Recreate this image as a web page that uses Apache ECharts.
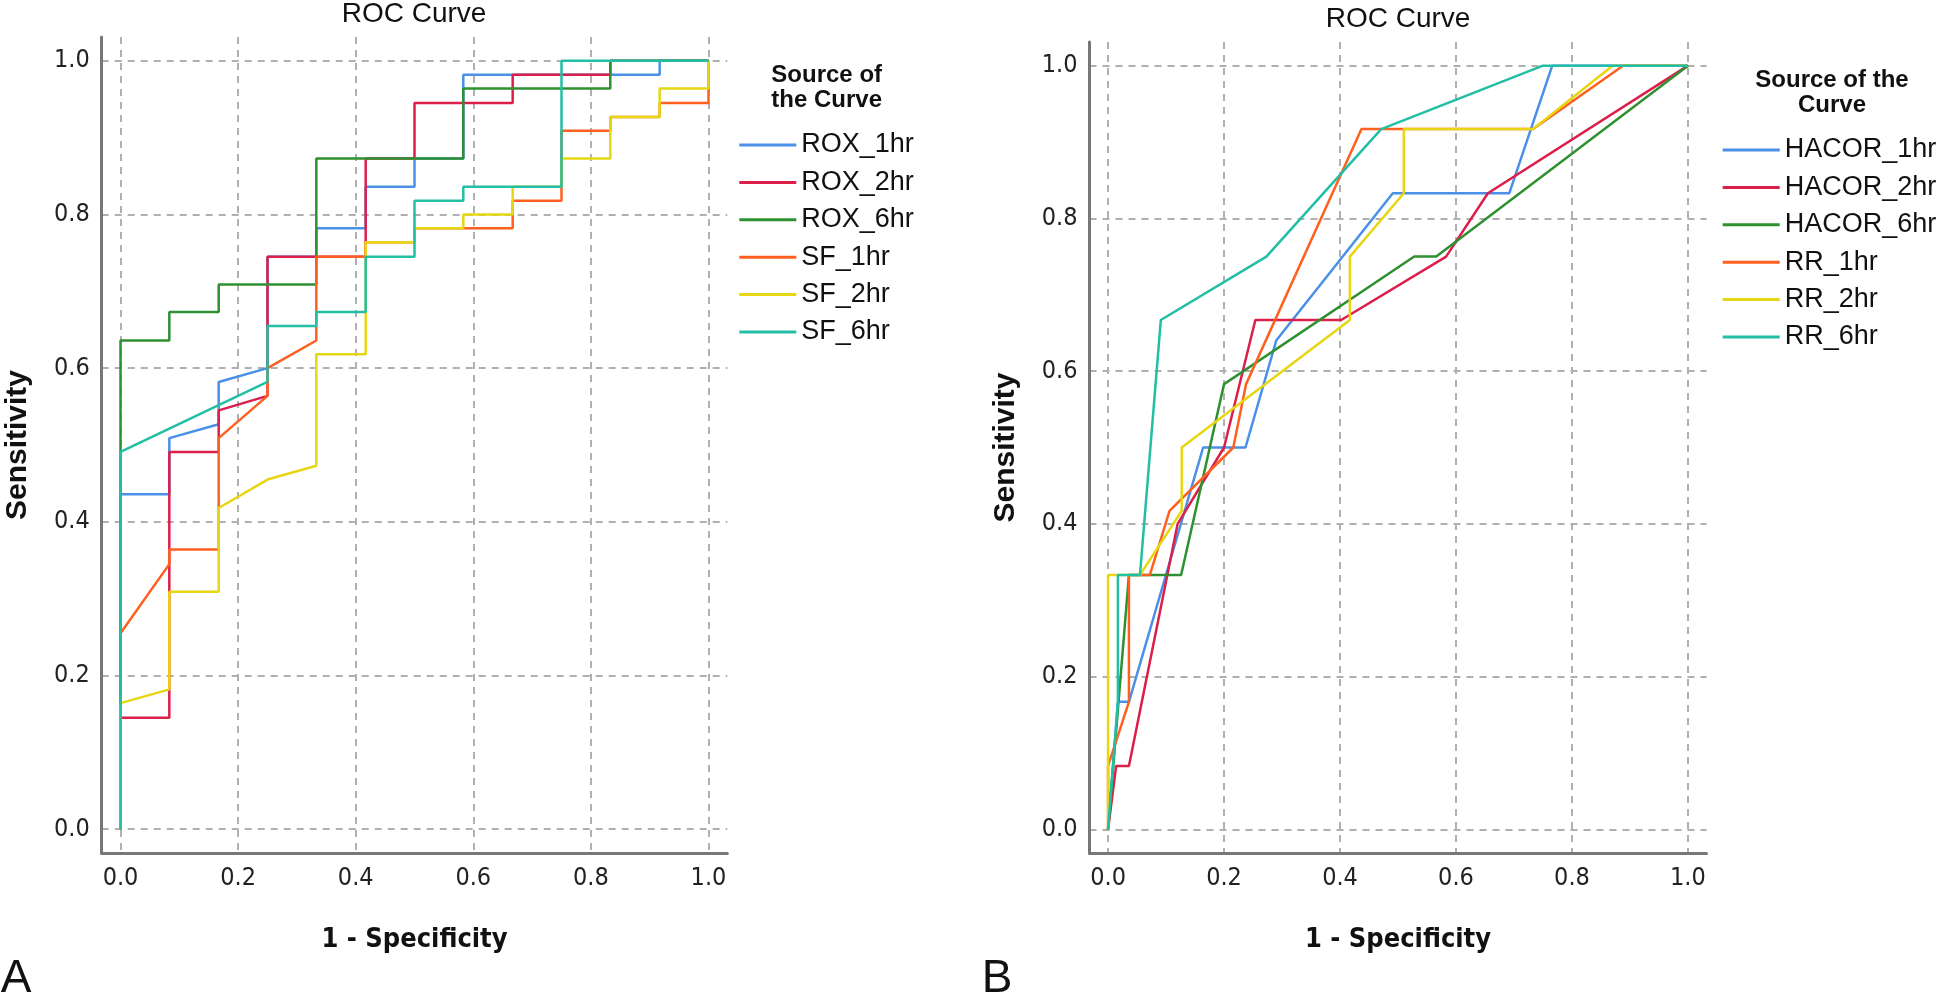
<!DOCTYPE html>
<html>
<head>
<meta charset="utf-8">
<title>ROC Curve</title>
<script src="https://cdn.jsdelivr.net/npm/echarts@6/dist/echarts.min.js"></script>
<style>
  html, body { margin: 0; padding: 0; background: #ffffff; }
  #chart { width: 1944px; height: 999px; }
</style>
</head>
<body>
<div id="chart"></div>
<script>
// panel A : ROX index and SpO2/FiO2, points are [1 - specificity, sensitivity]
const rox1hr = [[0,0],[0,0.436],[0.083,0.436],[0.083,0.509],[0.167,0.527],[0.167,0.582],[0.25,0.6],[0.25,0.745],[0.333,0.745],[0.333,0.782],[0.417,0.782],[0.417,0.836],[0.5,0.836],[0.5,0.873],[0.583,0.873],[0.583,0.982],[0.917,0.982],[0.917,1],[1,1]]
const rox2hr = [[0,0],[0,0.145],[0.083,0.145],[0.083,0.491],[0.167,0.491],[0.167,0.545],[0.25,0.564],[0.25,0.745],[0.417,0.745],[0.417,0.873],[0.5,0.873],[0.5,0.945],[0.667,0.945],[0.667,0.982],[0.833,0.982],[0.833,1],[1,1]]
const rox6hr = [[0,0],[0,0.636],[0.083,0.636],[0.083,0.673],[0.167,0.673],[0.167,0.709],[0.333,0.709],[0.333,0.873],[0.583,0.873],[0.583,0.964],[0.833,0.964],[0.833,1],[1,1]]
const sf1hr = [[0,0],[0,0.255],[0.083,0.345],[0.083,0.364],[0.167,0.364],[0.167,0.509],[0.25,0.564],[0.25,0.6],[0.333,0.636],[0.333,0.745],[0.417,0.745],[0.417,0.764],[0.5,0.764],[0.5,0.782],[0.667,0.782],[0.667,0.818],[0.75,0.818],[0.75,0.909],[0.833,0.909],[0.833,0.927],[0.917,0.927],[0.917,0.945],[1,0.945],[1,1]]
const sf2hr = [[0,0],[0,0.164],[0.083,0.182],[0.083,0.309],[0.167,0.309],[0.167,0.418],[0.25,0.455],[0.333,0.473],[0.333,0.618],[0.417,0.618],[0.417,0.764],[0.5,0.764],[0.5,0.782],[0.583,0.782],[0.583,0.8],[0.667,0.8],[0.667,0.836],[0.75,0.836],[0.75,0.873],[0.833,0.873],[0.833,0.927],[0.917,0.927],[0.917,0.964],[1,0.964],[1,1]]
const sf6hr = [[0,0],[0,0.491],[0.25,0.582],[0.25,0.655],[0.333,0.655],[0.333,0.673],[0.417,0.673],[0.417,0.745],[0.5,0.745],[0.5,0.818],[0.583,0.818],[0.583,0.836],[0.75,0.836],[0.75,1],[1,1]]

// panel B : HACOR and respiratory rate
const hacor1hr = [[0,0],[0.017,0.167],[0.036,0.167],[0.164,0.5],[0.237,0.5],[0.29,0.64],[0.491,0.833],[0.692,0.833],[0.766,1],[1,1]]
const hacor2hr = [[0,0],[0.014,0.083],[0.036,0.083],[0.12,0.4],[0.2,0.5],[0.254,0.667],[0.402,0.667],[0.583,0.75],[0.655,0.833],[1,1]]
const hacor6hr = [[0,0],[0.036,0.333],[0.126,0.333],[0.2,0.583],[0.528,0.75],[0.566,0.75],[1,1]]
const rr1hr = [[0,0],[0,0.083],[0.036,0.167],[0.036,0.333],[0.072,0.333],[0.106,0.417],[0.216,0.5],[0.238,0.583],[0.437,0.917],[0.733,0.917],[0.888,1],[1,1]]
const rr2hr = [[0,0],[0,0.333],[0.055,0.333],[0.127,0.417],[0.127,0.5],[0.417,0.667],[0.417,0.75],[0.51,0.833],[0.51,0.917],[0.733,0.917],[0.87,1],[1,1]]
const rr6hr = [[0,0],[0.017,0.167],[0.017,0.333],[0.055,0.333],[0.091,0.667],[0.273,0.75],[0.471,0.917],[0.75,1],[1,1]]

const namesA = ['ROX_1hr', 'ROX_2hr', 'ROX_6hr', 'SF_1hr', 'SF_2hr', 'SF_6hr']
const namesB = ['HACOR_1hr', 'HACOR_2hr', 'HACOR_6hr', 'RR_1hr', 'RR_2hr', 'RR_6hr']
const dataA = [rox1hr, rox2hr, rox6hr, sf1hr, sf2hr, sf6hr]
const dataB = [hacor1hr, hacor2hr, hacor6hr, rr1hr, rr2hr, rr6hr]
const colors = ['#4a8fe8', '#dc1e4a', '#2f9032', '#ff6020', '#e6d614', '#22bfa5']

const narrow = "'Liberation Sans Narrow', 'DejaVu Sans Condensed', 'Arial Narrow', sans-serif"
const arial = "'Liberation Sans', Arial, sans-serif"

const chart = echarts.init(document.getElementById('chart'))

function makeX(idx) {
  return {
    type: 'value', gridIndex: idx,
    min: -0.032, max: 1.032, splitNumber: 5,
    name: '1 - Specificity', nameLocation: 'middle', nameGap: 73,
    nameTextStyle: {fontFamily: narrow, fontWeight: 'bold', fontSize: 27, color: '#111'},
    axisLine: {onZero: false, lineStyle: {color: '#777', width: 3}},
    axisTick: {show: false},
    axisLabel: {showMinLabel: false, showMaxLabel: false, margin: 13, fontSize: 25, fontFamily: narrow, color: '#222',
      formatter: v => v.toFixed(1)},
    splitLine: {show: true, showMinLine: false, showMaxLine: false,
      lineStyle: {type: [7, 6], color: '#b0b0b0', width: 2}}
  }
}
function makeY(idx) {
  return {
    type: 'value', gridIndex: idx,
    min: -0.031, max: 1.031, splitNumber: 5,
    name: 'Sensitivity', nameLocation: 'middle', nameGap: 69,
    nameTextStyle: {fontFamily: arial, fontWeight: 'bold', fontSize: 30, color: '#111'},
    axisLine: {onZero: false, lineStyle: {color: '#777', width: 3}},
    axisTick: {show: false},
    axisLabel: {showMinLabel: false, showMaxLabel: false, margin: 12, fontSize: 25, fontFamily: narrow, color: '#222',
      formatter: v => v.toFixed(1)},
    splitLine: {show: true, showMinLine: false, showMaxLine: false,
      lineStyle: {type: [7, 6], color: '#b0b0b0', width: 2}}
  }
}

const series = []
namesA.forEach((n, i) => {
  series.push({name: n, type: 'line', xAxisIndex: 0, yAxisIndex: 0, data: dataA[i],
    symbol: 'none', color: colors[i], lineStyle: {width: 2.5}, animation: false})
})
namesB.forEach((n, i) => {
  series.push({name: n, type: 'line', xAxisIndex: 1, yAxisIndex: 1, data: dataB[i],
    symbol: 'none', color: colors[i], lineStyle: {width: 2.5}, animation: false})
})

function txt(x, y, s, size, weight, family) {
  return {type: 'text', x: x, y: y,
    style: {text: s, fontSize: size, fontWeight: weight, fontFamily: family, fill: '#111',
      align: 'center', verticalAlign: 'middle'}}
}

const legendBase = {orient: 'vertical', padding: 0, icon: 'rect',
  itemWidth: 57, itemHeight: 3, itemGap: 9.4,
  textStyle: {fontSize: 27, fontFamily: arial, color: '#111', lineHeight: 28}}

const option = {
  backgroundColor: '#ffffff',
  animation: false,
  grid: [
    {left: 101.7, top: 37, width: 625.6, height: 816},
    {left: 1089.5, top: 42, width: 617, height: 811}
  ],
  xAxis: [makeX(0), makeX(1)],
  yAxis: [makeY(0), makeY(1)],
  legend: [
    Object.assign({data: namesA, left: 739.3, top: 131}, legendBase),
    Object.assign({data: namesB, left: 1722.7, top: 136}, legendBase)
  ],
  graphic: [
    txt(414, 14, 'ROC Curve', 28, 'normal', arial),
    txt(1398, 19, 'ROC Curve', 28, 'normal', arial),
    txt(826.7, 75, 'Source of', 24, 'bold', arial),
    txt(826.7, 100, 'the Curve', 24, 'bold', arial),
    txt(1832, 80, 'Source of the', 24, 'bold', arial),
    txt(1832, 105, 'Curve', 24, 'bold', arial),
    txt(16, 979, 'A', 46, 'normal', arial),
    txt(997, 979, 'B', 46, 'normal', arial)
  ],
  series: series
}
chart.setOption(option)
</script>
</body>
</html>
